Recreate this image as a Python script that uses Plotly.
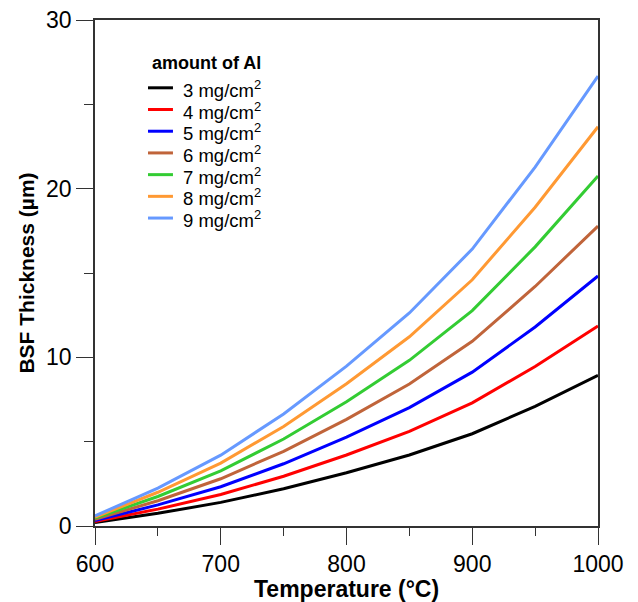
import plotly.graph_objects as go

temperature = [600, 650, 700, 750, 800, 850, 900, 950, 1000]

al_3 = [0.20, 0.75, 1.40, 2.21, 3.16, 4.21, 5.47, 7.09, 8.93]
al_4 = [0.27, 1.00, 1.87, 2.95, 4.21, 5.61, 7.30, 9.46, 11.86]
al_5 = [0.33, 1.25, 2.33, 3.69, 5.27, 7.02, 9.12, 11.80, 14.82]
al_6 = [0.40, 1.50, 2.80, 4.43, 6.32, 8.42, 10.95, 14.20, 17.78]
al_7 = [0.47, 1.75, 3.27, 5.16, 7.37, 9.82, 12.77, 16.55, 20.75]
al_8 = [0.53, 2.00, 3.73, 5.90, 8.43, 11.22, 14.60, 18.90, 23.67]
al_9 = [0.60, 2.25, 4.20, 6.64, 9.48, 12.63, 16.42, 21.28, 26.68]

series_names = ["3 mg/cm<sup>2</sup>", "4 mg/cm<sup>2</sup>", "5 mg/cm<sup>2</sup>",
                "6 mg/cm<sup>2</sup>", "7 mg/cm<sup>2</sup>", "8 mg/cm<sup>2</sup>",
                "9 mg/cm<sup>2</sup>"]
series_values = [al_3, al_4, al_5, al_6, al_7, al_8, al_9]
colors = ["#000000", "#ff0000", "#0000ff", "#c0643a", "#33cc33", "#ff9933", "#6699ff"]
legend_title = "amount of Al"
x_title = "Temperature (°C)"
y_title = "BSF Thickness (µm)"

x_ticks = [600, 700, 800, 900, 1000]
y_ticks = [0, 10, 20, 30]

FONT = "Liberation Sans, Arial, sans-serif"

fig = go.Figure()
for name, vals, c in zip(series_names, series_values, colors):
    fig.add_trace(go.Scatter(x=temperature, y=vals, mode="lines", name=name,
                             line=dict(color=c, width=3), showlegend=False))

# Legend drawn as paper-positioned layout elements
LEG_TITLE_X, LEG_TITLE_Y = 0.109, 0.915
LEG_LINE_X0, LEG_LINE_X1, LEG_TEXT_X = 0.1054, 0.155, 0.171
LEG_Y0, LEG_DY = 0.866, 0.0429
fig.add_annotation(x=LEG_TITLE_X, y=LEG_TITLE_Y, xref="paper", yref="paper",
                   text="<b>" + legend_title + "</b>", showarrow=False,
                   xanchor="left", yanchor="middle",
                   font=dict(family=FONT, size=18, color="#000"))
for i, (name, c) in enumerate(zip(series_names, colors)):
    yy = LEG_Y0 - i * LEG_DY
    fig.add_shape(type="line", xref="paper", yref="paper",
                  x0=LEG_LINE_X0, x1=LEG_LINE_X1, y0=yy, y1=yy,
                  line=dict(color=c, width=3))
    fig.add_annotation(x=LEG_TEXT_X, y=yy, xref="paper", yref="paper",
                       text=name, showarrow=False, xanchor="left", yanchor="middle",
                       yshift=-1,
                       font=dict(family=FONT, size=18.5, color="#000"))

# x-axis title
fig.add_annotation(x=0.5, y=0, xref="paper", yref="paper", text="<b>" + x_title + "</b>",
                   showarrow=False, xanchor="center", yanchor="middle", yshift=-63,
                   font=dict(family=FONT, size=23, color="#000"))

axis_common = dict(
    showline=True, linecolor="#333333", linewidth=1.5, mirror=True,
    showgrid=False, zeroline=False, ticks="outside", tickcolor="#333333",
    tickwidth=1.2, ticklen=17, tickfont=dict(family=FONT, size=23, color="#000"),
    automargin=False, ticklabeloverflow="allow",
)

fig.update_xaxes(range=[600, 1000], tickvals=x_ticks,
                 minor=dict(ticks="outside", ticklen=8, dtick=50, tick0=600,
                            tickcolor="#333333", tickwidth=1.2),
                 **axis_common)
fig.update_yaxes(range=[0, 30], tickvals=y_ticks,
                 minor=dict(ticks="outside", ticklen=9, dtick=5, tick0=0,
                            tickcolor="#333333", tickwidth=1.2),
                 title=dict(text="<b>" + y_title + "</b>",
                            font=dict(family=FONT, size=21, color="#000"), standoff=6),
                 **axis_common)

fig.update_layout(
    width=638, height=602,
    margin=dict(l=87, r=48, t=12, b=84),
    plot_bgcolor="white", paper_bgcolor="white",
    font=dict(family=FONT, color="#000"),
    showlegend=False,
)

fig.write_html("out.html")
